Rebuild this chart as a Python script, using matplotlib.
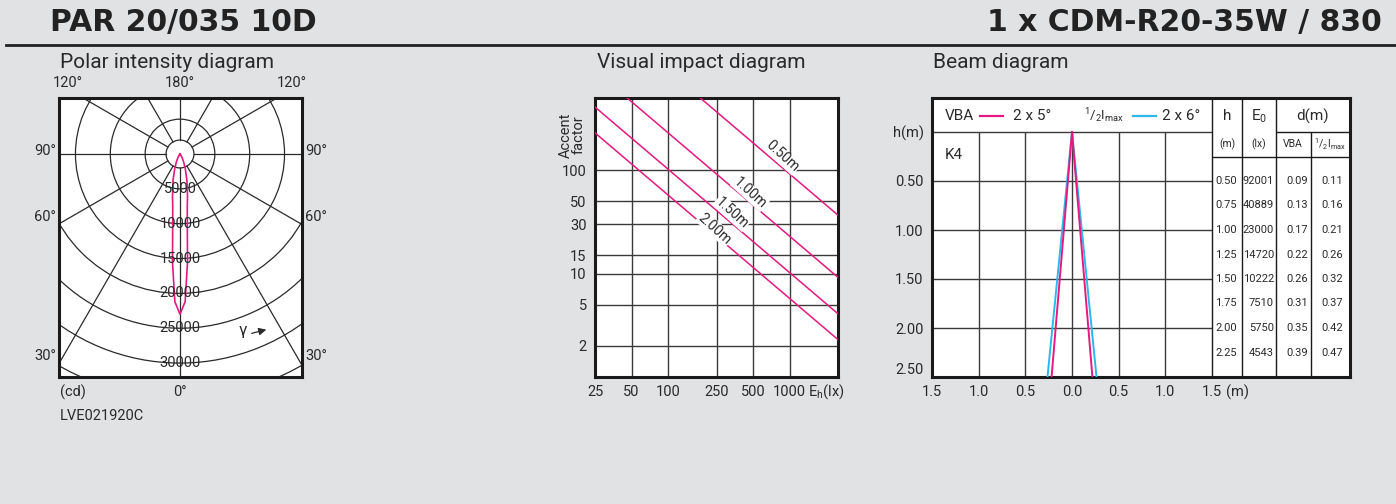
import numpy as np
import matplotlib
matplotlib.use("Agg")
import matplotlib.pyplot as plt
from matplotlib.patches import Circle

plt.rcParams['font.family'] = ['Roboto', 'DejaVu Sans']
plt.rcParams['mathtext.fontset'] = 'custom'
plt.rcParams['mathtext.rm'] = 'Roboto'
plt.rcParams['mathtext.it'] = 'Roboto:italic'

# --- data -------------------------------------------------------------
title_left = "PAR 20/035 10D"
title_right = "1 x CDM-R20-35W / 830"

# polar intensity diagram (cd vs gamma)
gamma = [0, 2, 4, 6, 8, 10, 12, 15, 20, 25, 30, 40, 50]
intensity = [23000, 21200, 15500, 10000, 7500, 6200, 5000, 3800, 2200, 1200, 600, 100, 0]
ring_values = [5000, 10000, 15000, 20000, 25000, 30000]

# visual impact diagram
eh_ticks = [25, 50, 100, 250, 500, 1000]
accent_ticks = [2, 5, 10, 15, 30, 50, 100]
impact_labels = ["0.50m", "1.00m", "1.50m", "2.00m"]
impact_e0 = [92001, 23000, 10222, 5750]

# beam diagram
beam_xticks = [-1.5, -1.0, -0.5, 0.0, 0.5, 1.0, 1.5]
beam_xlabels = ["1.5", "1.0", "0.5", "0.0", "0.5", "1.0", "1.5"]
beam_yticks = [0.0, 0.5, 1.0, 1.5, 2.0, 2.5]
beam_ylabels = ["h(m)", "0.50", "1.00", "1.50", "2.00", "2.50"]
vba_angle = 5
half_angle = 6
table_h = ["0.50", "0.75", "1.00", "1.25", "1.50", "1.75", "2.00", "2.25"]
table_e0 = ["92001", "40889", "23000", "14720", "10222", "7510", "5750", "4543"]
table_vba = ["0.09", "0.13", "0.17", "0.22", "0.26", "0.31", "0.35", "0.39"]
table_half = ["0.11", "0.16", "0.21", "0.26", "0.32", "0.37", "0.42", "0.47"]

# --- figure -----------------------------------------------------------
W, H = 1396, 504
BG = '#e1e2e4'
INK = '#2a2a2a'
GRID = '#3a3a3a'
MAG = '#e5197f'
CYAN = '#2bb8ea'

fig = plt.figure(figsize=(W / 100, H / 100), dpi=100, facecolor=BG)


def fx(x):
    return x / W


def fy(y):
    return 1 - y / H


def rect(x0, y0, x1, y1):
    return [fx(x0), fy(y1), (x1 - x0) / W, (y1 - y0) / H]


fig.text(fx(50), fy(23), title_left, fontsize=21.5, fontweight='bold',
         family='DejaVu Sans', color='#222222', va='center', ha='left')
fig.text(fx(1382), fy(23), title_right, fontsize=21.5, fontweight='bold',
         family='DejaVu Sans', color='#222222', va='center', ha='right')
fig.add_artist(plt.Line2D([fx(6), 1], [fy(45), fy(45)], color='#222222', lw=2.0))

fig.text(fx(60), fy(63), "Polar intensity diagram", fontsize=15, color=INK, va='center')
fig.text(fx(597), fy(63), "Visual impact diagram", fontsize=15, color=INK, va='center')
fig.text(fx(933), fy(63), "Beam diagram", fontsize=15, color=INK, va='center')

# --- polar intensity diagram -------------------------------------------
ax1 = fig.add_axes(rect(59, 98, 302, 377))
s = 143.5  # cd per pixel
ax1.set_xlim(-121 * s, 122 * s)
ax1.set_ylim(223 * s, -56 * s)
ax1.set_xticks([])
ax1.set_yticks([])
for sp in ax1.spines.values():
    sp.set_linewidth(2.2)
    sp.set_color('#1a1a1a')

cap = 2000
for r in ring_values + [35000, 40000, 45000]:
    ax1.add_patch(Circle((0, 0), r, fill=False, ec=INK, lw=0.9))
ax1.add_patch(Circle((0, 0), cap, fill=False, ec=INK, lw=0.9))
for a in [0, 30, 60, 90, 120, 150, 180, -30, -60, -90, -120, -150]:
    t = np.radians(a)
    ax1.plot([cap * np.sin(t), 60000 * np.sin(t)], [cap * np.cos(t), 60000 * np.cos(t)],
             color=INK, lw=0.9)

g = np.radians(np.array([-v for v in gamma[::-1]] + gamma[1:]))
I = np.array(intensity[::-1] + intensity[1:])
ax1.plot(I * np.sin(g), I * np.cos(g), color=MAG, lw=1.2, zorder=5)

for r in ring_values:
    ax1.text(0, r, str(r), ha='center', va='center', fontsize=10.5, color=INK, zorder=6)

ax1.text(63 * s, 177 * s, "γ", fontsize=12, color=INK, ha='center', va='center')
ax1.annotate("", xy=(89 * s, 175 * s), xytext=(69 * s, 180 * s),
             arrowprops=dict(arrowstyle='-|>', color=INK, lw=0.9, mutation_scale=11))

lab = dict(fontsize=10.5, color=INK, va='center')
fig.text(fx(68), fy(83), "120°", ha='center', **lab)
fig.text(fx(180), fy(83), "180°", ha='center', **lab)
fig.text(fx(292), fy(83), "120°", ha='center', **lab)
for txt, yy in [("90°", 151), ("60°", 217), ("30°", 356)]:
    fig.text(fx(56), fy(yy), txt, ha='right', **lab)
    fig.text(fx(305), fy(yy), txt, ha='left', **lab)
fig.text(fx(60), fy(392), "(cd)", ha='left', **lab)
fig.text(fx(180), fy(392), "0°", ha='center', **lab)
fig.text(fx(60), fy(416), "LVE021920C", ha='left', **lab)

# --- visual impact diagram ---------------------------------------------
ax2 = fig.add_axes(rect(595, 98, 838, 377))
ax2.set_xscale('log')
ax2.set_yscale('log')
ax2.set_xlim(25, 2500)
ax2.set_ylim(1, 500)
ax2.set_xticks(eh_ticks)
ax2.set_xticklabels([str(v) for v in eh_ticks])
ax2.set_yticks(accent_ticks)
ax2.set_yticklabels([str(v) for v in accent_ticks])
ax2.xaxis.set_minor_locator(matplotlib.ticker.NullLocator())
ax2.yaxis.set_minor_locator(matplotlib.ticker.NullLocator())
ax2.tick_params(length=0, labelsize=10.5, labelcolor=INK, pad=6)
for sp in ax2.spines.values():
    sp.set_linewidth(2.2)
    sp.set_color('#1a1a1a')
for v in eh_ticks[1:]:
    ax2.axvline(v, color=GRID, lw=1.0)
for v in accent_ticks:
    ax2.axhline(v, color=GRID, lw=1.0)

eh = np.array([25.0, 2500.0])
for e0 in impact_e0:
    ax2.plot(eh, e0 / eh, color=MAG, lw=1.1, zorder=4)

label_x = [867, 473, 335, 243]
label_k = [1.28, 1.24, 1.27, 1.15]
for txt, e0, xx, kk in zip(impact_labels, impact_e0, label_x, label_k):
    ax2.text(xx, e0 / xx * kk, txt, rotation=-42, ha='center', va='center',
             fontsize=10, color=INK, zorder=6, rotation_mode='anchor',
             bbox=dict(fc='white', ec='none', pad=0.5))

ax2.text(0.877, -15 / 279.0, "E$_\\mathrm{h}$(lx)", transform=ax2.transAxes,
         ha='left', va='center', fontsize=10.5, color=INK)
fig.text(fx(572), fy(135), "Accent\nfactor", rotation=90, ha='center', va='center',
         fontsize=10.5, color=INK, linespacing=0.85)

# --- beam diagram -------------------------------------------------------
ax3 = fig.add_axes(rect(932, 98, 1350, 377))
ux = 280 / 3.0   # px per m horizontally
ax3.set_xlim(-1.5, 1.5 + 138 / ux)
ax3.set_ylim(2.5, -34 / 98.0)
ax3.set_xticks(beam_xticks)
ax3.set_xticklabels(beam_xlabels)
ax3.set_yticks(beam_yticks)
ax3.set_yticklabels(beam_ylabels)
ax3.tick_params(length=0, labelsize=10.5, labelcolor=INK, pad=6)
ax3.get_yticklabels()[-1].set_va('bottom')
for sp in ax3.spines.values():
    sp.set_linewidth(2.2)
    sp.set_color('#1a1a1a')
ax3.text(1.5 + 14 / ux, 2.5 + 15 / 98.0, "(m)", ha='left', va='center',
         fontsize=10.5, color=INK, clip_on=False)

ax3.vlines([-1.0, -0.5, 0.0, 0.5, 1.0], 0, 2.5, color=GRID, lw=1.0)
ax3.hlines([0.0, 0.5, 1.0, 1.5, 2.0], -1.5, 1.5, color=GRID, lw=1.0)

hh = np.array([0.0, 2.5])
for ang, col in [(half_angle, CYAN), (vba_angle, MAG)]:
    d = hh * np.tan(np.radians(ang))
    ax3.plot(d, hh, color=col, lw=1.4, zorder=4)
    ax3.plot(-d, hh, color=col, lw=1.4, zorder=4)

# legend row
ly = -0.163
ax3.text(-1.5 + 13 / ux, ly, "VBA", fontsize=11, color=INK, va='center', ha='left')
ax3.plot([-1.5 + 48 / ux, -1.5 + 71 / ux], [ly, ly], color=MAG, lw=1.6)
ax3.text(-1.5 + 81 / ux, ly, "2 x 5°", fontsize=11, color=INK, va='center', ha='left')
ax3.text(-1.5 + 152 / ux, ly, "$^1/_2\\mathrm{I}_{\\mathrm{max}}$", fontsize=9.5, color=INK,
         va='center', ha='left')
ax3.plot([-1.5 + 201 / ux, -1.5 + 224 / ux], [ly, ly], color=CYAN, lw=1.6)
ax3.text(-1.5 + 230 / ux, ly, "2 x 6°", fontsize=11, color=INK, va='center', ha='left')
ax3.text(-1.5 + 13 / ux, 0.235, "K4", fontsize=11, color=INK, va='center', ha='left')


# table
def tx(px):
    return -1.5 + (px - 932) / ux


ax3.vlines([tx(1212), tx(1242), tx(1276)], -34 / 98.0, 2.5, color='#1a1a1a', lw=1.0)
ax3.vlines([tx(1311)], 0, 2.5, color='#1a1a1a', lw=1.0)
ax3.hlines([0.0], tx(1276), tx(1350), color='#1a1a1a', lw=1.0)
ax3.hlines([25 / 98.0], tx(1212), tx(1350), color='#1a1a1a', lw=1.0)

ax3.text(tx(1227), ly, "h", fontsize=11, color=INK, ha='center', va='center')
ax3.text(tx(1259), ly, "E$_0$", fontsize=11, color=INK, ha='center', va='center')
ax3.text(tx(1313), ly, "d(m)", fontsize=11, color=INK, ha='center', va='center')
r2 = 12 / 98.0
for txt, px in [("(m)", 1227), ("(lx)", 1259), ("VBA", 1293),
                ("$^1/_2\\mathrm{I}_{\\mathrm{max}}$", 1330)]:
    ax3.text(tx(px), r2, txt, fontsize=7.5, color=INK, ha='center', va='center')

for col, px in [(table_h, 1237), (table_e0, 1274), (table_vba, 1308), (table_half, 1343)]:
    for h, v in zip(table_h, col):
        ax3.text(tx(px), float(h), v, fontsize=8, color=INK, ha='right', va='center')

fig.savefig("out.png", dpi=100, facecolor=BG)
